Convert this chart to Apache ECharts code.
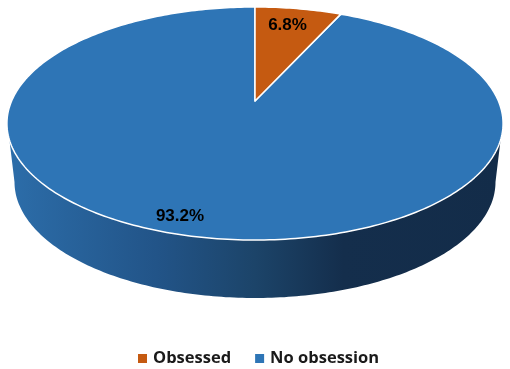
<!DOCTYPE html>
<html><head><meta charset="utf-8">
<style>html,body{margin:0;padding:0;background:#fff}#c{width:510px;height:369px}</style>
<script src="https://cdn.jsdelivr.net/npm/echarts@6/dist/echarts.min.js"></script>
</head><body><div id="c"></div>
<script>
const categories = ['Obsessed', 'No obsession'];
const values = [6.8, 93.2];
const colors = ['#C55A11', '#2E75B6'];
const labelAt = [[287.5, 25], [180, 216]];

// Perspective view of the pie's top disc
const view = {cx: 255, apexY: 101, A: 243.4, B: 112.2, k: 0.1931};
const topRim = {cx: 255, cy: 123.5, rx: 248, ry: 116.5};
const baseRim = {cx: 255, cy: 182, rx: 240.5, ry: 116};

function project(deg) {
  const t = deg * Math.PI / 180, X = Math.sin(t), Z = Math.cos(t), w = 1 + view.k * Z;
  return [view.cx + view.A * X / w, view.apexY - view.B * Z / w];
}
function rimPoint(e, deg) {
  const t = deg * Math.PI / 180;
  return [e.cx + e.rx * Math.cos(t), e.cy + e.ry * Math.sin(t)];
}
function slicePoints(fromPct, toPct) {
  const a = fromPct * 3.6, b = toPct * 3.6, pts = [[view.cx, view.apexY]];
  const n = Math.max(2, Math.ceil(b - a));
  for (let i = 0; i <= n; i++) pts.push(project(a + (b - a) * i / n));
  return pts;
}
function sidePoints() {
  const pts = [rimPoint(topRim, 8)];
  for (let d = 0; d <= 180; d += 1) pts.push(rimPoint(baseRim, d));
  pts.push(rimPoint(topRim, 172));
  return pts;
}

function makeSeries(idx) {
  const start = values.slice(0, idx).reduce((s, v) => s + v, 0);
  return {
    type: 'custom',
    name: categories[idx],
    coordinateSystem: 'none',
    color: colors[idx],
    itemStyle: {color: colors[idx]},
    z: idx === 0 ? 3 : 2,
    data: [values[idx]],
    renderItem(params, api) {
      const v = api.value(0), children = [];
      if (idx === 1) {
        children.push({
          type: 'polygon',
          shape: {points: sidePoints()},
          style: {
            fill: new echarts.graphic.LinearGradient(0, 0, 1, 0, [
              {offset: 0, color: '#2C6DA9'},
              {offset: 0.3, color: '#225488'},
              {offset: 0.5, color: '#1C4469'},
              {offset: 0.68, color: '#142E4C'},
              {offset: 1, color: '#132C49'}
            ]),
            stroke: null
          }
        });
      }
      children.push({
        type: 'polygon',
        shape: {points: slicePoints(start, start + v)},
        style: {fill: colors[idx], stroke: '#fff', lineWidth: 1.5, lineJoin: 'round'}
      });
      children.push({
        type: 'text',
        z2: 10,
        style: {
          text: v + '%',
          x: labelAt[idx][0], y: labelAt[idx][1],
          align: 'center', verticalAlign: 'middle',
          fill: '#000',
          font: 'bold 17px "Liberation Sans", Arial, sans-serif'
        }
      });
      return {type: 'group', children};
    }
  };
}

const chart = echarts.init(document.getElementById('c'), null, {renderer: 'canvas'});
chart.setOption({
  animation: false,
  backgroundColor: '#fff',
  legend: {
    data: categories,
    left: 133, top: 345,
    icon: 'rect',
    itemWidth: 9, itemHeight: 9,
    itemGap: 24,
    textStyle: {fontFamily: '"Open Sans"', fontWeight: 'bold', fontSize: 16.5, color: '#1a1a1a', padding: [0, 0, 0, 1]}
  },
  series: categories.map((_, i) => makeSeries(i))
});
</script></body></html>
